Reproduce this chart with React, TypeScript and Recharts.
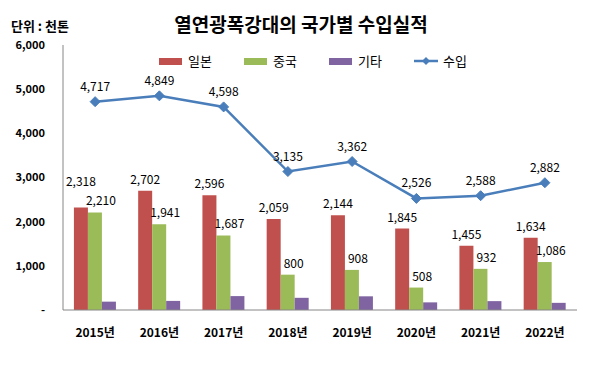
import { ComposedChart, Bar, Line, XAxis, YAxis, LabelList } from 'recharts';

const years = ['2015년', '2016년', '2017년', '2018년', '2019년', '2020년', '2021년', '2022년'];
const japan = [2318, 2702, 2596, 2059, 2144, 1845, 1455, 1634];
const china = [2210, 1941, 1687, 800, 908, 508, 932, 1086];
const others = [189, 206, 315, 276, 310, 173, 201, 162];
const total = [4717, 4849, 4598, 3135, 3362, 2526, 2588, 2882];
const yTicks = [0, 1000, 2000, 3000, 4000, 5000, 6000];

const FONT = '"Noto Sans CJK KR", "Noto Sans", sans-serif';
const RED = '#C0504D';
const GREEN = '#9BBB59';
const PURPLE = '#8064A2';
const BLUE = '#4A7EBB';

const data = years.map((y, i) => ({
  year: y,
  japan: japan[i],
  china: china[i],
  others: others[i],
  total: total[i],
}));

const fmt = (v: any) => Number(v).toLocaleString('en-US');

const Diamond = (props: any) => {
  const { cx, cy } = props;
  if (cx == null || cy == null) return null;
  const r = 5;
  return (
    <polygon
      points={`${cx},${cy - r} ${cx + r},${cy} ${cx},${cy + r} ${cx - r},${cy}`}
      fill={BLUE}
      stroke={BLUE}
    />
  );
};

// Japan label: pushed up when the China label beside it would collide
const JapanLabel = (props: any) => {
  const { x, y, width, value, index } = props;
  const close = Math.abs(japan[index] - china[index]) < 400;
  const lift = close ? 22 : 7;
  return (
    <text
      x={x + width / 2}
      y={y - lift}
      textAnchor="middle"
      fontSize={12}
      fill="#000"
      fontFamily={FONT}
    >
      {fmt(value)}
    </text>
  );
};

const legendItems = [
  { name: '일본', color: RED, type: 'rect' },
  { name: '중국', color: GREEN, type: 'rect' },
  { name: '기타', color: PURPLE, type: 'rect' },
  { name: '수입', color: BLUE, type: 'line' },
];

const ChartLegend = () => (
  <div style={{ position: 'absolute', left: 158, top: 50, display: 'flex', fontFamily: FONT, fontSize: 13 }}>
    {legendItems.map((it) => (
      <div key={it.name} style={{ display: 'flex', alignItems: 'center', width: 85 }}>
        <svg width={25} height={14} style={{ marginRight: 4 }}>
          {it.type === 'rect' ? (
            <rect x={0} y={4} width={23} height={7} fill={it.color} />
          ) : (
            <g>
              <line x1={0} y1={7} x2={24} y2={7} stroke={it.color} strokeWidth={2.5} />
              <polygon points="12,3 16,7 12,11 8,7" fill={it.color} />
            </g>
          )}
        </svg>
        <span style={{ color: '#000' }}>{it.name}</span>
      </div>
    ))}
  </div>
);

export default function App() {
  return (
    <div
      style={{
        position: 'relative',
        width: 600,
        height: 377,
        margin: -8,
        boxSizing: 'border-box',
        border: '1px solid #9a9a9a',
        background: '#fff',
        fontFamily: FONT,
      }}
    >
      <div
        style={{
          position: 'absolute',
          top: 9,
          left: 0,
          width: 600,
          textAlign: 'center',
          fontSize: 19,
          fontWeight: 'bold',
          color: '#000',
        }}
      >
        열연광폭강대의 국가별 수입실적
      </div>
      <div
        style={{
          position: 'absolute',
          top: 18,
          left: 10,
          fontSize: 13,
          lineHeight: '14px',
          fontWeight: 'bold',
          color: '#000',
        }}
      >
        단위 : 천톤
      </div>
      <ChartLegend />
      <div style={{ position: 'absolute', left: -1, top: -1 }}>
        <ComposedChart
          width={600}
          height={377}
          data={data}
          margin={{ top: 45, right: 23, left: 8, bottom: 37 }}
          barCategoryGap="17%"
          barGap={0}
        >
          <XAxis
            dataKey="year"
            height={30}
            tickLine={false}
            axisLine={{ stroke: '#868686' }}
            tickMargin={12}
            tick={{ fontSize: 12, fontWeight: 'bold', fill: '#000', fontFamily: FONT }}
            interval={0}
          />
          <YAxis
            width={55}
            domain={[0, 6000]}
            ticks={yTicks}
            tickLine={false}
            axisLine={{ stroke: '#868686' }}
            tickMargin={12}
            tickFormatter={(v: number) => (v === 0 ? '-' : fmt(v))}
            tick={{ fontSize: 11, fontWeight: 'bold', fill: '#000', fontFamily: FONT }}
          />
          <Bar dataKey="japan" fill={RED} isAnimationActive={false}>
            <LabelList dataKey="japan" content={<JapanLabel />} />
          </Bar>
          <Bar dataKey="china" fill={GREEN} isAnimationActive={false}>
            <LabelList
              dataKey="china"
              position="top"
              offset={7}
              dx={6}
              formatter={fmt}
              style={{ fontSize: 12, fill: '#000', fontFamily: FONT }}
            />
          </Bar>
          <Bar dataKey="others" fill={PURPLE} isAnimationActive={false} />
          <Line
            dataKey="total"
            stroke={BLUE}
            strokeWidth={2.5}
            dot={<Diamond />}
            activeDot={false}
            isAnimationActive={false}
          >
            <LabelList
              dataKey="total"
              position="top"
              offset={11}
              formatter={fmt}
              style={{ fontSize: 12, fill: '#000', fontFamily: FONT }}
            />
          </Line>
        </ComposedChart>
      </div>
    </div>
  );
}
